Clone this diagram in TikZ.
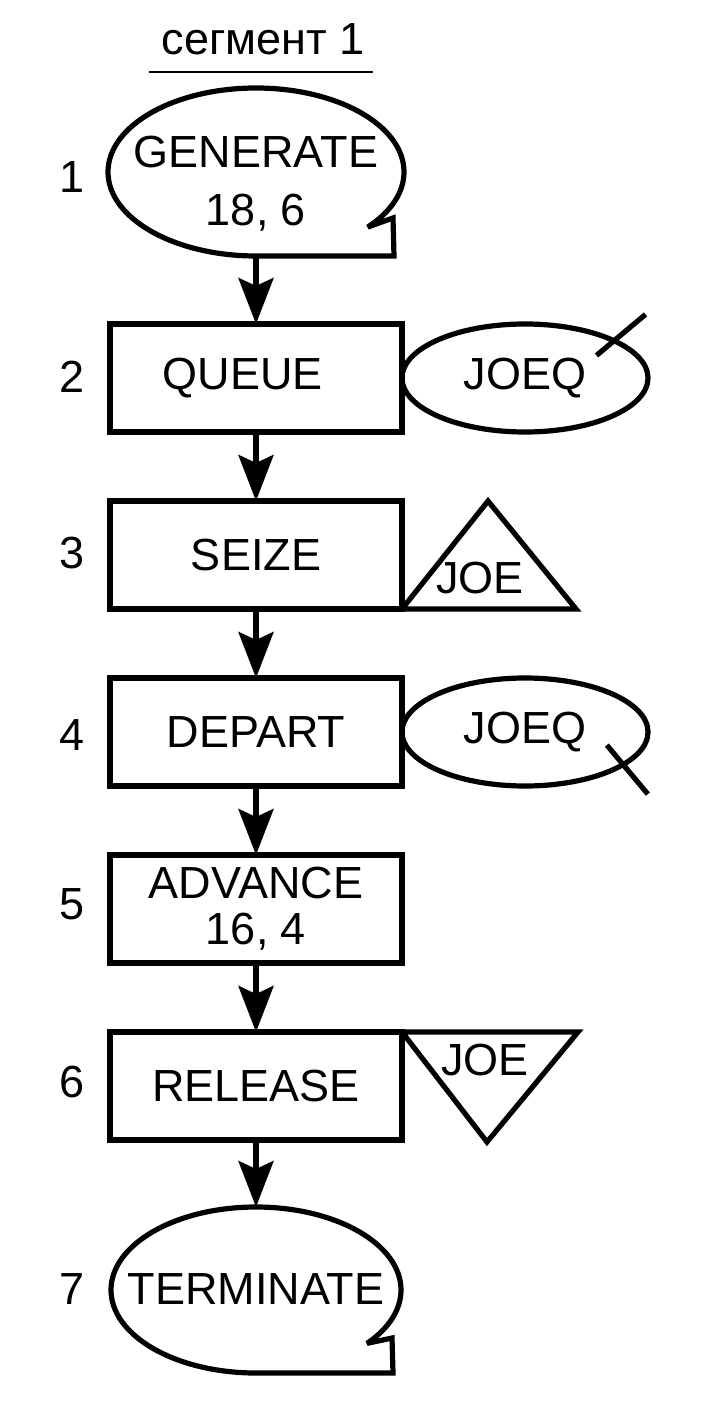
\documentclass[tikz,border=0pt]{standalone}
\usepackage{fontspec}
\setmainfont{Liberation Sans}
\usetikzlibrary{arrows.meta}
\usetikzlibrary{positioning,shapes.geometric}

\begin{document}
\begin{tikzpicture}[>={Stealth[length=23pt, width=17.5pt, inset=4pt]}, x=0.5pt, y=-0.5pt, line width=2.6pt,
    every node/.style={font=\fontsize{22.5}{29}\selectfont},
    block/.style={draw, minimum width=146pt, minimum height=54pt, inner sep=0pt, outer sep=0pt},
    stor/.style={draw, ellipse, minimum width=123pt, minimum height=54pt, inner sep=0pt, outer sep=0pt},
    num/.style={inner sep=0pt},
    outline/.style={miter limit=3}]

    \useasboundingbox (0,0) rectangle (708,1422);

    % segment title
    \node[anchor=base, inner sep=0pt] (seg) at (263,55) {сегмент 1};
    \draw[line width=1.3pt] (149,72) -- (373,72);

    % 1: GENERATE
    \draw[outline] (256,256) coordinate (gen-b) arc[start angle=90, end angle=401, x radius=148, y radius=84] -- (393,218) -- (394,256) -- cycle;
    \node[align=center] (gen) at (256,184) {GENERATE\\18, 6};

    % 2-6: blocks
    \node[block, below=34pt of gen-b] (q) {\kern-13pt QUEUE};
    \node[block, below=34.5pt of q] (s) {SEIZE};
    \node[block, below=34.5pt of s] (d) {DEPART};
    \node[block, below=34.5pt of d, align=center, font=\fontsize{22.5}{23}\selectfont] (a) {ADVANCE\\16, 4};
    \node[block, below=34.5pt of a] (r) {RELEASE};

    % 7: TERMINATE
    \draw[outline] (256,1373) coordinate (term-b) arc[start angle=90, end angle=400, x radius=145, y radius=83] -- (392,1338) -- (393,1373) -- cycle;
    \coordinate (term-t) at (256,1207);
    \node (term) at (256,1289) {TERMINATE};

    % block numbers
    \foreach \n/\y in {1/177, 2/377, 3/553, 4/735, 5/904, 6/1082, 7/1289}
        \node[num] (n\n) at (72,\y) {\n};

    % flow
    \draw[->] (gen-b) -- (q);
    \foreach \u/\v in {q/s, s/d, d/a, a/r}
        \draw[->] (\u) -- (\v);
    \draw[->] (r) -- (term-t);

    % queue JOEQ
    \node[stor, right=0pt of q] (qq) {JOEQ};
    \draw (qq.22) ++(-19,14) -- ++(49,-41);
    \node[stor, right=0pt of d] (dq) {JOEQ};
    \draw (dq.-18) ++(-17,-19) -- ++(41,49);

    % facility JOE
    \draw (s.south east) -- ++(174,0) -- ++(-88,-108) -- cycle;
    \node (sj) at (480,578) {JOE};
    \draw (r.north east) -- ++(176,0) -- ++(-91,110) -- cycle;
    \node (rj) at (485,1060) {JOE};

\end{tikzpicture}
\end{document}
